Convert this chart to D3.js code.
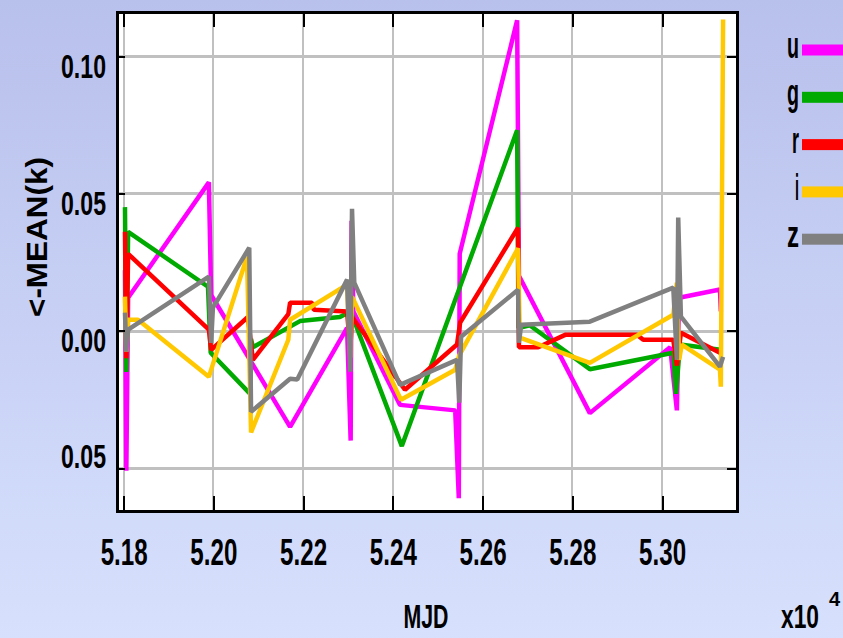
<!DOCTYPE html>
<html>
<head>
<meta charset="utf-8">
<script src="https://cdnjs.cloudflare.com/ajax/libs/d3/7.8.5/d3.min.js"></script>
<style>
  html, body { margin: 0; padding: 0; overflow: hidden; }
  svg { display: block; }
  text { font-family: "Liberation Sans Narrow", "Liberation Sans", sans-serif; font-weight: bold; fill: #000; }
</style>
</head>
<body>
<div id="chart"></div>
<script>
// bands and their colours
var bands = ["u", "g", "r", "i", "z"];
var bandColors = ["#ff00ff", "#00aa00", "#ff0000", "#ffc800", "#808080"];

// [MJD, <-MEAN(k)> ]
var uData = [
  [51803, 0.022], [51806, -0.051], [51810, 0.012], [51990, 0.054], [51995, 0.013],
  [52171, -0.035], [52298, 0.001], [52306, -0.040], [52308, 0.040], [52312, 0.007],
  [52416, -0.027], [52539, -0.029], [52547, -0.061], [52549, 0.028], [52677, 0.113],
  [52681, 0.020], [52839, -0.030], [53018, -0.006], [53033, -0.029], [53038, 0.012],
  [53129, 0.015], [53131, 0.007]
];
var gData = [
  [51803, 0.045], [51806, -0.015], [51810, 0.036], [51988, 0.016], [51994, -0.008],
  [52082, -0.023], [52084, -0.003], [52088, -0.006], [52193, 0.0035], [52282, 0.005],
  [52306, 0.007], [52420, -0.042], [52677, 0.073], [52680, 0.001], [52705, 0.002],
  [52839, -0.014], [53025, -0.008], [53031, -0.023], [53040, -0.005], [53134, -0.007]
];
var rData = [
  [51803, 0.036], [51806, -0.010], [51810, 0.028], [51990, 0.0004], [51995, -0.007],
  [52077, 0.005], [52088, -0.0106], [52167, 0.006], [52171, 0.0102], [52220, 0.0102],
  [52224, 0.0076], [52298, 0.007], [52305, -0.007], [52309, 0.005], [52427, -0.0215],
  [52543, -0.005], [52550, 0.003], [52679, 0.0375], [52681, -0.006], [52724, -0.006],
  [52784, -0.0015], [52944, -0.0015], [52958, -0.0033], [53025, -0.0033], [53033, -0.0127],
  [53042, -0.0007], [53129, -0.008]
];
var iData = [
  [51803, 0.0124], [51806, -0.0076], [51810, 0.004], [51832, 0.004], [51990, -0.0168],
  [52075, 0.027], [52084, -0.037], [52167, -0.0033], [52171, 0.004], [52298, 0.0168],
  [52305, -0.0098], [52309, 0.0124], [52418, -0.0251], [52539, -0.0142], [52548, -0.009],
  [52679, 0.030], [52683, -0.0025], [52839, -0.0117], [53025, 0.0058], [53033, 0.0175],
  [53038, -0.0106], [53044, -0.0051], [53129, -0.0142], [53131, -0.0204], [53136, 0.1133]
];
var zData = [
  [51803, 0.0066], [51806, -0.0076], [51810, 0.0004], [51990, 0.0197], [51995, -0.0044],
  [51999, 0.0084], [52080, 0.0302], [52084, -0.0295], [52171, -0.0175], [52187, -0.0178],
  [52298, 0.0186], [52305, -0.0149], [52309, 0.0444], [52314, 0.0175], [52416, -0.0197],
  [52543, -0.0106], [52548, -0.0262], [52552, -0.0022], [52679, 0.0149], [52681, -0.0044],
  [52686, 0.0022], [52839, 0.0033], [53025, 0.0157], [53033, -0.0106], [53036, 0.0412],
  [53042, 0.0051], [53129, -0.0131], [53136, -0.0095]
];
var seriesData = [uData, gData, rData, iData, zData];

// axis ticks and labels
var xTicks = [51800, 52000, 52200, 52400, 52600, 52800, 53000];
var xTickLabels = ["5.18", "5.20", "5.22", "5.24", "5.26", "5.28", "5.30"];
var yTicks = [0.10, 0.05, 0.00, -0.05];
var yTickLabels = ["0.10", "0.05", "0.00", "0.05"];

var width = 843, height = 638;
var plot = {left: 117, top: 12, right: 737, bottom: 511};

var svg = d3.select("#chart").append("svg")
    .attr("width", width)
    .attr("height", height);

var grad = svg.append("defs").append("linearGradient")
    .attr("id", "bg").attr("x1", 0).attr("y1", 0).attr("x2", 0).attr("y2", 1);
grad.append("stop").attr("offset", "0%").attr("stop-color", "#b8c0ec");
grad.append("stop").attr("offset", "100%").attr("stop-color", "#d7e1fd");

svg.append("rect").attr("width", width).attr("height", height).attr("fill", "url(#bg)");

var x = d3.scaleLinear().domain([51783, 53167]).range([116, 737]);
var y = d3.scaleLinear().domain([-0.066, 0.1164]).range([512, 11]);

svg.append("rect")
    .attr("x", plot.left).attr("y", plot.top)
    .attr("width", plot.right - plot.left).attr("height", plot.bottom - plot.top)
    .attr("fill", "#fff");

// grid
svg.append("g").selectAll("line").data(xTicks).enter().append("line")
    .attr("x1", function(d) { return Math.round(x(d)); })
    .attr("x2", function(d) { return Math.round(x(d)); })
    .attr("y1", plot.top).attr("y2", plot.bottom)
    .attr("stroke", "#c0c0c0").attr("stroke-width", 2)
    .attr("shape-rendering", "crispEdges");
svg.append("g").selectAll("line").data(yTicks).enter().append("line")
    .attr("x1", plot.left).attr("x2", plot.right)
    .attr("y1", function(d) { return Math.round(y(d)); })
    .attr("y2", function(d) { return Math.round(y(d)); })
    .attr("stroke", "#c0c0c0").attr("stroke-width", 3)
    .attr("shape-rendering", "crispEdges");

// data lines
var line = d3.line()
    .x(function(d) { return x(d[0]); })
    .y(function(d) { return y(d[1]); });

svg.append("g").selectAll("path").data(seriesData).enter().append("path")
    .attr("d", line)
    .attr("fill", "none")
    .attr("stroke", function(d, i) { return bandColors[i]; })
    .attr("stroke-width", 4.5)
    .attr("stroke-linejoin", "bevel");

// frame
svg.append("rect")
    .attr("x", plot.left).attr("y", plot.top)
    .attr("width", plot.right - plot.left).attr("height", plot.bottom - plot.top)
    .attr("fill", "none").attr("stroke", "#000").attr("stroke-width", 3)
    .attr("shape-rendering", "crispEdges");

function styleTicks(g) {
  g.select(".domain").remove();
  g.selectAll("line").attr("stroke", "#000").attr("stroke-width", 2).attr("shape-rendering", "crispEdges");
}

var gxb = svg.append("g").attr("transform", "translate(0," + plot.bottom + ")")
    .call(d3.axisBottom(x).tickValues(xTicks).tickSize(-15).tickPadding(28)
      .tickFormat(function(d, i) { return xTickLabels[i]; }))
    .call(styleTicks);
gxb.selectAll("text")
    .attr("font-size", 37)
    .attr("textLength", 47)
    .attr("lengthAdjust", "spacingAndGlyphs");

svg.append("g").attr("transform", "translate(0," + plot.top + ")")
    .call(d3.axisTop(x).tickValues(xTicks).tickSize(-15).tickFormat(""))
    .call(styleTicks);

var gyl = svg.append("g").attr("transform", "translate(" + plot.left + ",0)")
    .call(d3.axisLeft(y).tickValues(yTicks).tickSize(-8).tickPadding(11)
      .tickFormat(function(d, i) { return yTickLabels[i]; }))
    .call(styleTicks);
gyl.selectAll("text")
    .attr("font-size", 34)
    .attr("dy", function(d) { return d < 0 ? -1 : 21; })
    .attr("textLength", 45)
    .attr("lengthAdjust", "spacingAndGlyphs");

svg.append("g").attr("transform", "translate(" + plot.right + ",0)")
    .call(d3.axisRight(y).tickValues(yTicks).tickSize(-10).tickFormat(""))
    .call(styleTicks);

// axis titles
svg.append("text")
    .attr("transform", "translate(47,237) rotate(-90)")
    .attr("text-anchor", "middle")
    .attr("font-size", 30)
    .attr("textLength", 160)
    .attr("lengthAdjust", "spacingAndGlyphs")
    .text("<-MEAN(k)");

svg.append("text")
    .attr("x", 426).attr("y", 628)
    .attr("text-anchor", "middle")
    .attr("font-size", 34)
    .attr("textLength", 45)
    .attr("lengthAdjust", "spacingAndGlyphs")
    .text("MJD");

svg.append("text")
    .attr("x", 781).attr("y", 628)
    .attr("font-size", 34)
    .attr("textLength", 38)
    .attr("lengthAdjust", "spacingAndGlyphs")
    .text("x10");
svg.append("text")
    .attr("x", 829).attr("y", 606)
    .attr("font-size", 20)
    .text("4");

// legend
var legend = svg.append("g").selectAll("g").data(bands).enter().append("g")
    .attr("transform", function(d, i) { return "translate(0," + (50 + i * 47.3) + ")"; });
legend.append("rect")
    .attr("x", 802).attr("y", -5.5).attr("width", 45).attr("height", 11)
    .attr("fill", function(d, i) { return bandColors[i]; });
legend.append("text")
    .attr("x", 799).attr("y", 8)
    .attr("text-anchor", "end")
    .attr("font-size", 36)
    .attr("textLength", function(d) { return d === "i" ? 4 : d === "r" ? 7 : 12; })
    .attr("lengthAdjust", "spacingAndGlyphs")
    .text(function(d) { return d; });
</script>
</body>
</html>
